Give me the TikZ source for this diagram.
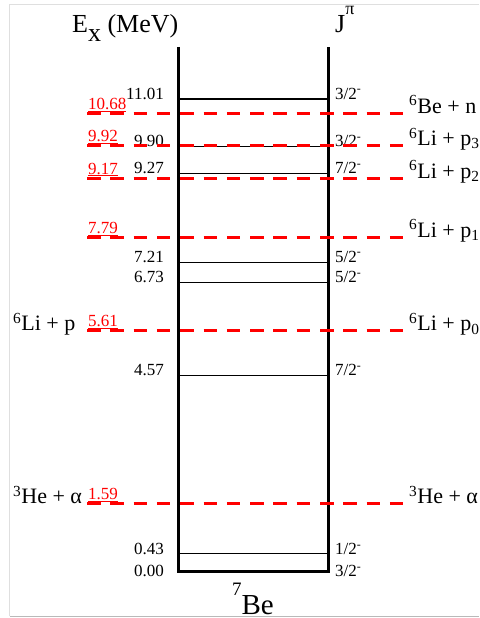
\documentclass[tikz,border=0pt]{standalone}
\usepackage{fontspec}
\setmainfont{Liberation Serif}
\usetikzlibrary{positioning}

\begin{document}
\begin{tikzpicture}[
        x=1pt, y=1pt,
        frame/.style={gray!25, line width=1pt},
        wall/.style={line width=3pt},
        level/.style={line width=1.1pt},
        thresh/.style={red, line width=3pt, dash pattern=on 13.5pt off 9.8pt},
        elabel/.style={anchor=base east, inner sep=0pt, font=\fontsize{17}{19}\selectfont},
        jlabel/.style={anchor=base west, inner sep=0pt, font=\fontsize{17}{19}\selectfont},
        tlabel/.style={anchor=base west, inner sep=0pt, text=red, font=\fontsize{17}{19}\selectfont},
        chan/.style={anchor=base west, inner sep=0pt, font=\fontsize{22}{24}\selectfont},
        head/.style={anchor=base west, inner sep=0pt, font=\fontsize{26}{28}\selectfont}
    ]
        \useasboundingbox (0,0) rectangle (479,618);
        \draw[frame] (479,613.7) -- (9.5,613.7) -- (9.5,1.5);
        \draw[gray!55, line width=1.2pt] (9.5,1.5) -- (479,1.5);

        \node[head] (ex) at (72,585) {E\raisebox{-9pt}{x} (MeV)};
        \node[head] (jpi) at (335,585) {J\raisebox{18pt}{\fontsize{18}{20}\selectfont π}};

        \coordinate (tl) at (178,571);
        \coordinate (bl) at (178,46);
        \coordinate (br) at (328,46);
        \coordinate (tr) at (328,571);
        \draw[wall] (tl) -- (bl) -- (br) -- (tr);

        \node[anchor=base, inner sep=0pt, font=\fontsize{29}{31}\selectfont] (be) at (253,3)
            {\raisebox{20pt}{\fontsize{19}{21}\selectfont 7}Be};

        \begin{scope}[yshift=46pt, y=42.96pt]
            \foreach \e/\jn/\dy [count=\i] in {0.00/3/-5, 0.43/1/-1, 4.57/7/0, 6.73/5/0,
                    7.21/5/0, 9.27/7/0, 9.90/3/0, 11.01/3/0} {
                \draw[level] (178,\e) -- (328,\e);
                \node[elabel, yshift=\dy pt] (lev\i) at (164,\e) {\e};
                \node[jlabel, yshift=\dy pt] (jp\i) at (335,\e) {\jn/2\textsuperscript{-}};
            }
            \foreach \e/\ch [count=\i] in {1.59/\textsuperscript{3}He + α,
                    5.61/\textsuperscript{6}Li + p\textsubscript{0},
                    7.79/\textsuperscript{6}Li + p\textsubscript{1},
                    9.17/\textsuperscript{6}Li + p\textsubscript{2},
                    9.92/\textsuperscript{6}Li + p\textsubscript{3},
                    10.68/\textsuperscript{6}Be + n} {
                \draw[thresh] (87,\e) -- (404,\e);
                \node[tlabel, yshift=4pt] (thr\i) at (88,\e) {\underline{\e}};
                \node[chan] (out\i) at (409,\e) {\ch};
            }
            \node[chan] (in1) at (13,1.59) {\textsuperscript{3}He + α};
            \node[chan] (in2) at (13,5.61) {\textsuperscript{6}Li + p};
        \end{scope}
    \end{tikzpicture}
\end{document}
